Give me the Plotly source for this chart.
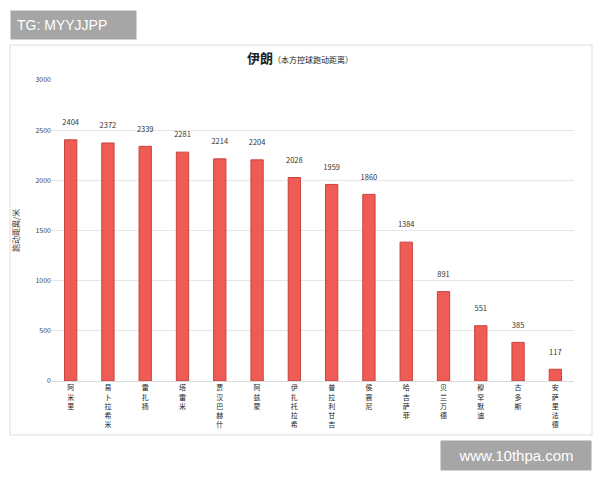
import plotly.graph_objects as go

players = ["阿米里", "易卜拉希米", "雷扎扬", "塔雷米", "贾汉巴赫什", "阿兹蒙", "伊扎托拉希",
           "普拉利甘吉", "侯赛尼", "哈吉萨菲", "贝兰万德", "穆罕默迪", "古多斯", "安萨里法德"]
distance = [2404, 2372, 2339, 2281, 2214, 2204, 2028, 1959, 1860, 1384, 891, 551, 385, 117]
y_ticks = [0, 500, 1000, 1500, 2000, 2500, 3000]

W, H = 600, 480
L, R, T, B = 52, 574, 80, 381


def px(x):
    return (x - L) / (R - L)


def py(y):
    return (B - y) / (B - T)


vertical = ["<br>".join(list(p)) for p in players]

fig = go.Figure()
fig.add_trace(go.Bar(
    x=vertical, y=distance,
    marker=dict(color="#EF5B55", line=dict(color="#C9443F", width=1)),
    width=0.33,
    text=[f"{v}<br> " for v in distance], textposition="outside", constraintext="none",
    textfont=dict(size=7.5, color="#333333", family="Noto Sans CJK SC"),
    cliponaxis=False,
))

fig.update_layout(
    width=W, height=H,
    margin=dict(l=L, r=W - R, t=T, b=H - B),
    paper_bgcolor="white", plot_bgcolor="white",
    showlegend=False,
    font=dict(family="Noto Sans CJK SC", color="#333333"),
    bargap=0.6,
    xaxis=dict(showgrid=False, tickfont=dict(size=7, color="#222222"),
               ticks="", showline=True, linecolor="#D9D9D9", tickangle=0),
    yaxis=dict(range=[0, 3000], tickvals=y_ticks, showgrid=True, gridcolor="#E6E6E6",
               zeroline=False, tickfont=dict(size=7, color="#444444"), ticks="",
               title=dict(text="跑动距离/米", font=dict(size=8, color="#333333"), standoff=14)),
    shapes=[
        dict(type="rect", xref="paper", yref="paper", x0=px(10), x1=px(592), y0=py(435), y1=py(45),
             line=dict(color="#DDDDDD", width=1), fillcolor="rgba(0,0,0,0)", layer="below"),
    ],
    annotations=[
        dict(xref="paper", yref="paper", x=px(300), y=py(58), xanchor="center", yanchor="middle",
             text="<b>伊朗</b><span style='font-size:8px'>（本方控球跑动距离）</span>",
             showarrow=False, font=dict(size=13, color="#222222")),
        dict(xref="paper", yref="paper", x=px(10), y=py(10), xanchor="left", yanchor="top",
             text="TG: MYYJJPP", showarrow=False, bgcolor="#A6A6A6", borderpad=6,
             font=dict(size=14, color="white", family="Liberation Sans"), width=113, align="left"),
        dict(xref="paper", yref="paper", x=px(440), y=py(440), xanchor="left", yanchor="top",
             text="www.10thpa.com", showarrow=False, bgcolor="#A6A6A6", borderpad=6,
             font=dict(size=15, color="white", family="Liberation Sans"), width=138),
    ],
)

fig.write_html("out.html")
